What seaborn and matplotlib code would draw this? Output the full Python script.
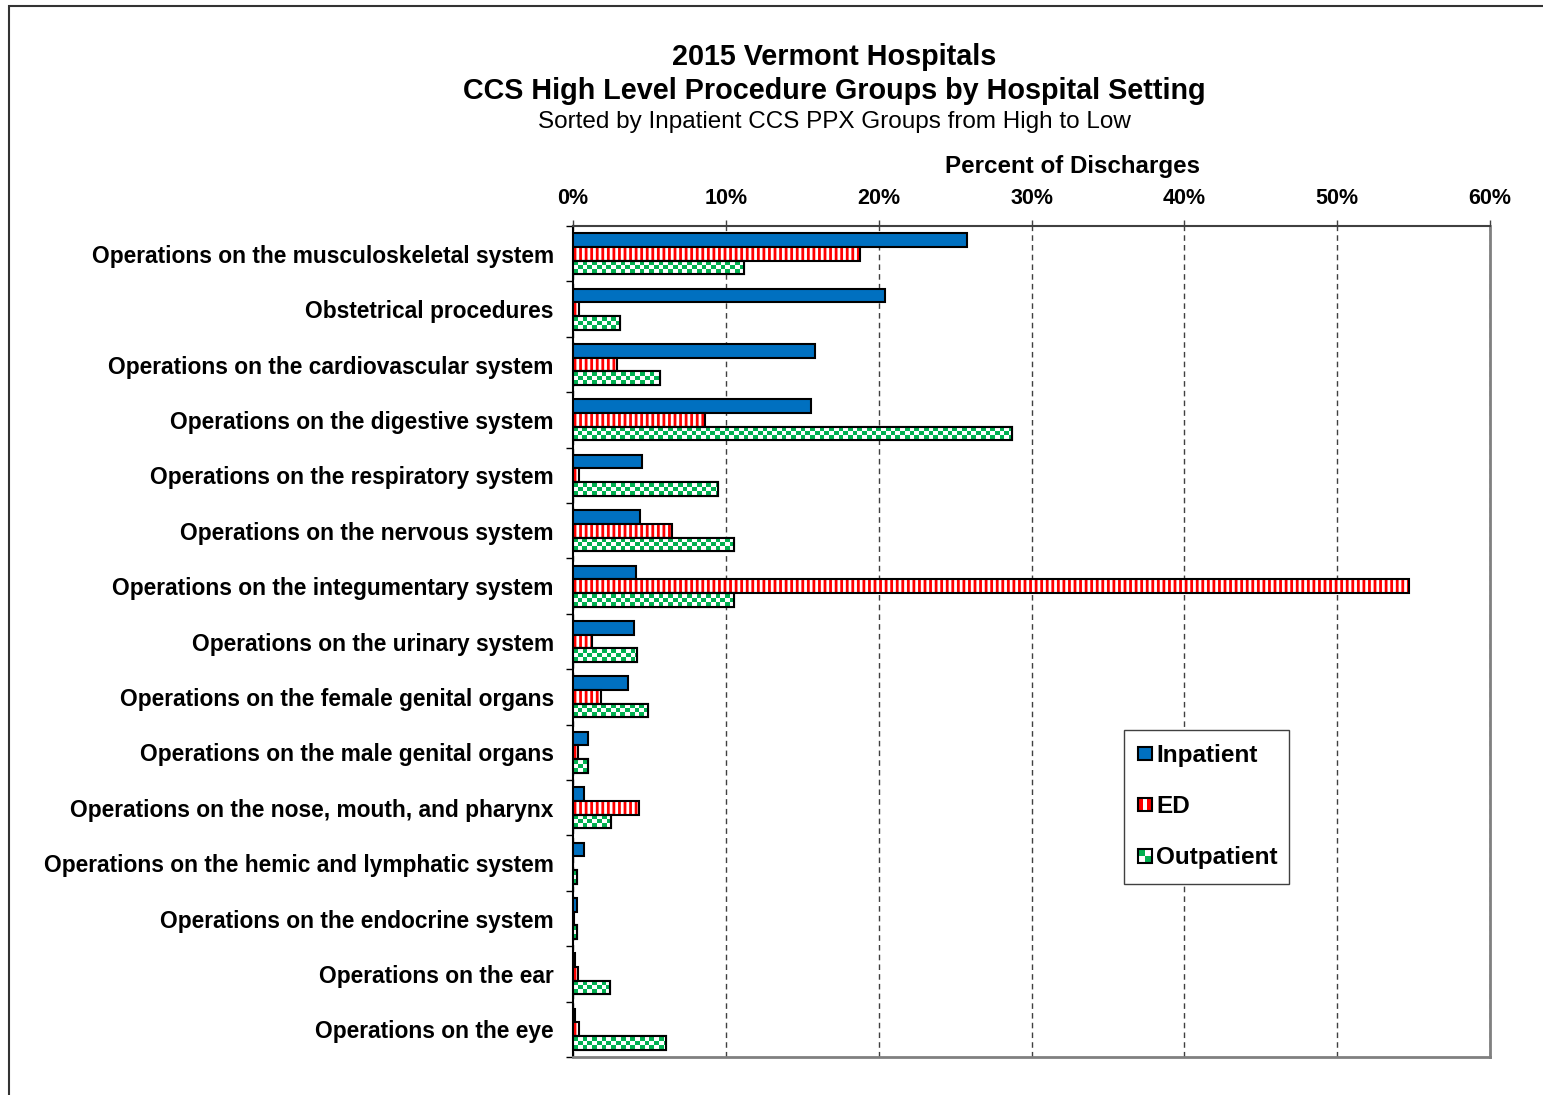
import numpy as np
import pandas as pd
import seaborn as sns
import matplotlib.pyplot as plt
from matplotlib.patches import Rectangle, Patch
from matplotlib.colors import ListedColormap
from matplotlib.legend_handler import HandlerBase
from matplotlib.ticker import MultipleLocator, FuncFormatter

# values (percent of discharges)
categories = [
    "Operations on the musculoskeletal system",
    "Obstetrical procedures",
    "Operations on the cardiovascular system",
    "Operations on the digestive system",
    "Operations on the respiratory system",
    "Operations on the nervous system",
    "Operations on the integumentary system",
    "Operations on the urinary system",
    "Operations on the female genital organs",
    "Operations on the male genital organs",
    "Operations on the nose, mouth, and pharynx",
    "Operations on the hemic and lymphatic system",
    "Operations on the endocrine system",
    "Operations on the ear",
    "Operations on the eye",
]
inpatient = [25.8, 20.4, 15.8, 15.6, 4.5, 4.4, 4.1, 4.0, 3.6, 1.0, 0.7, 0.7, 0.25, 0.15, 0.1]
ed = [18.8, 0.4, 2.9, 8.6, 0.4, 6.5, 54.7, 1.25, 1.8, 0.35, 4.3, 0.02, 0.03, 0.35, 0.4]
outpatient = [11.2, 3.1, 5.7, 28.7, 9.5, 10.5, 10.5, 4.2, 4.9, 1.0, 2.5, 0.25, 0.25, 2.4, 6.1]
settings = ["Inpatient", "ED", "Outpatient"]

BLUE = "#0070C0"
RED = "#FF0000"
GREEN = "#00B050"

sns.set_style("white")
plt.rcParams["font.family"] = ["Liberation Sans", "DejaVu Sans"]
plt.rcParams["hatch.linewidth"] = 2.0
for k in ["text.color", "axes.labelcolor", "xtick.color", "ytick.color"]:
    plt.rcParams[k] = "black"

df = pd.DataFrame({
    "category": categories * 3,
    "setting": np.repeat(settings, len(categories)),
    "value": inpatient + ed + outpatient,
})

fig = plt.figure(figsize=(15.43, 10.95), dpi=100)
ax = fig.add_axes([0.3714, 0.0347, 0.5943, 0.7589])

sns.barplot(data=df, x="value", y="category", hue="setting", hue_order=settings,
            order=categories, orient="h", width=0.74, gap=0, legend=False,
            palette=[BLUE, "white", "white"], saturation=1,
            edgecolor="black", linewidth=1.5, ax=ax, zorder=3)

# ED bars: red vertical stripes
for bar in ax.containers[1]:
    bar.set_hatch("|||")
    bar.set_edgecolor(RED)
    bar.set_linewidth(0)
    ax.add_patch(Rectangle((bar.get_x(), bar.get_y()), bar.get_width(), bar.get_height(),
                           fill=False, edgecolor="black", linewidth=1.5, zorder=5))

# Outpatient bars: green checkerboard
sq = 0.31
cmap = ListedColormap([GREEN, "white"])
for bar in ax.containers[2]:
    x0, y0, w, h = bar.get_x(), bar.get_y(), bar.get_width(), bar.get_height()
    ncol = max(2, int(np.ceil(w / sq)))
    board = np.add.outer(np.arange(3), np.arange(ncol)) % 2
    im = ax.imshow(board, cmap=cmap, vmin=0, vmax=1, interpolation="nearest",
                   extent=[x0, x0 + ncol * sq, y0 + h, y0], aspect="auto", zorder=4)
    im.set_clip_path(bar)
    ax.add_patch(Rectangle((x0, y0), w, h, fill=False, edgecolor="black",
                           linewidth=1.5, zorder=5))

ax.set_xlim(0, 60)
ax.set_ylim(len(categories) - 0.5, -0.5)
ax.set_xlabel("")
ax.set_ylabel("")

ax.xaxis.tick_top()
ax.xaxis.set_major_locator(MultipleLocator(10))
ax.xaxis.set_major_formatter(FuncFormatter(lambda v, p: f"{int(v)}%"))
ax.tick_params(axis="x", which="major", direction="out", length=4.3, width=1,
               color="#404040", pad=8, labelsize=15.5)
for t in ax.get_xticklabels():
    t.set_fontweight("bold")

ax.set_yticks(np.arange(-0.5, len(categories)), minor=True)
ax.tick_params(axis="y", which="minor", direction="out", length=5, width=1, color="black", left=True)
ax.tick_params(axis="y", which="major", length=0, pad=14, labelsize=16.4)
for t in ax.get_yticklabels():
    t.set_fontweight("bold")

ax.grid(axis="x", linestyle=(0, (4, 3)), color="#404040", linewidth=1, zorder=0)
ax.grid(axis="y", visible=False)
ax.set_axisbelow(True)

ax.spines["left"].set_color("black")
ax.spines["left"].set_linewidth(1.5)
ax.spines["top"].set_color("#404040")
ax.spines["top"].set_linewidth(1.5)
for s in ["right", "bottom"]:
    ax.spines[s].set_color("#808080")
    ax.spines[s].set_linewidth(2)


class BlockHandler(HandlerBase):
    def __init__(self, blocks):
        super().__init__()
        self.blocks = blocks

    def create_artists(self, legend, orig_handle, xdescent, ydescent, width, height, fontsize, trans):
        s = min(width, height)
        x0 = -xdescent + (width - s) / 2
        y0 = -ydescent + (height - s) / 2
        arts = []
        for fx, fy, fw, fh, c in self.blocks:
            arts.append(Rectangle((x0 + fx * s, y0 + fy * s), fw * s, fh * s,
                                  facecolor=c, edgecolor="none", transform=trans))
        arts.append(Rectangle((x0, y0), s, s, facecolor="none", edgecolor="black",
                              linewidth=1.5, transform=trans))
        return arts


h_in, h_ed, h_out = Patch(label="Inpatient"), Patch(label="ED"), Patch(label="Outpatient")
hmap = {
    h_in: BlockHandler([(0, 0, 1, 1, BLUE)]),
    h_ed: BlockHandler([(0, 0, 1, 1, "white"), (0, 0, 1 / 3, 1, RED), (2 / 3, 0, 1 / 3, 1, RED)]),
    h_out: BlockHandler([(0, 0, 1, 1, "white"), (0, 0.5, 0.5, 0.5, GREEN), (0.5, 0, 0.5, 0.5, GREEN)]),
}
leg = ax.legend(handles=[h_in, h_ed, h_out], labels=settings, handler_map=hmap,
                loc="upper left", bbox_to_anchor=(0.601, 0.2130, 0.18, 0.1805), mode="expand",
                borderaxespad=0, prop={"weight": "bold", "size": 17.5},
                handlelength=0.55, handleheight=0.55, handletextpad=0.18,
                labelspacing=1.16, borderpad=0.58, fancybox=False, framealpha=1)
leg.get_frame().set_edgecolor("#404040")
leg.get_frame().set_linewidth(1)
leg.set_zorder(10)

fig.text(0.5405, 1 - 57 / 1095, "2015 Vermont Hospitals", ha="center", va="center",
         fontsize=20.7, fontweight="bold")
fig.text(0.5405, 1 - 91 / 1095, "CCS High Level Procedure Groups by Hospital Setting",
         ha="center", va="center", fontsize=20.7, fontweight="bold")
fig.text(0.5405, 1 - 122 / 1095, "Sorted by Inpatient CCS PPX Groups from High to Low",
         ha="center", va="center", fontsize=17.5)
fig.text(0.695, 1 - 166 / 1095, "Percent of Discharges", ha="center", va="center",
         fontsize=17.4, fontweight="bold")

fig.patches.append(Rectangle((9 / 1543, -0.1), 1.2, 1.1 - 6 / 1095, transform=fig.transFigure,
                             fill=False, edgecolor="#333333", linewidth=1.5, figure=fig))

fig.savefig("out.png", dpi=100)
